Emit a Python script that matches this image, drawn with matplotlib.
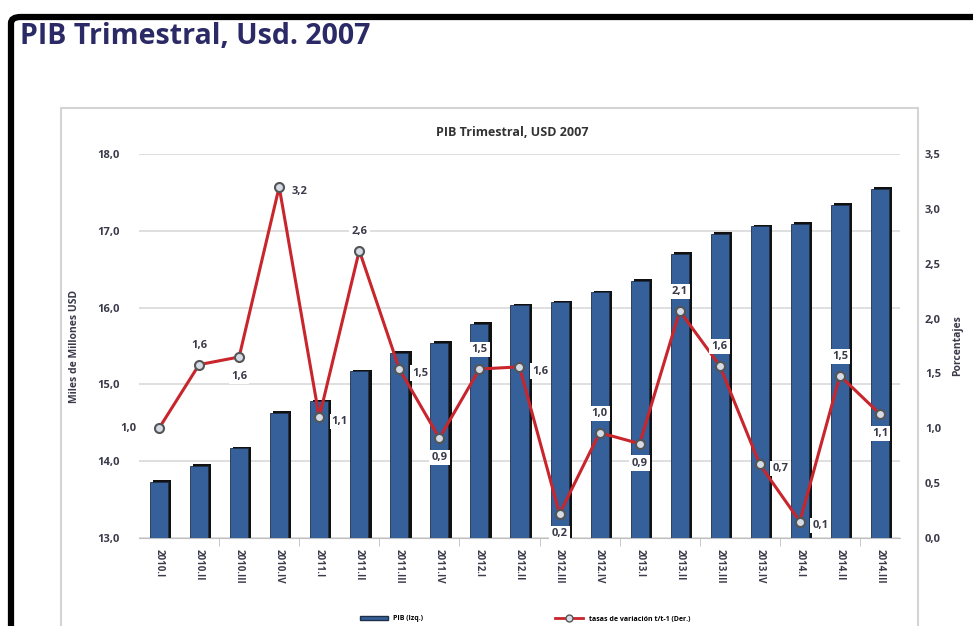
import matplotlib
matplotlib.use('Agg')
import matplotlib.pyplot as plt
from matplotlib.patches import Rectangle, FancyBboxPatch
from matplotlib.lines import Line2D
from matplotlib.patches import Patch
from matplotlib.ticker import FuncFormatter, FixedLocator

plt.rcParams['font.family'] = ['Open Sans', 'DejaVu Sans']

# datos
trimestres = ['2010.I', '2010.II', '2010.III', '2010.IV',
              '2011.I', '2011.II', '2011.III', '2011.IV',
              '2012.I', '2012.II', '2012.III', '2012.IV',
              '2013.I', '2013.II', '2013.III', '2013.IV',
              '2014.I', '2014.II', '2014.III']
pib = [13.73, 13.94, 14.17, 14.63, 14.78, 15.17, 15.41, 15.54, 15.79, 16.03,
       16.07, 16.20, 16.35, 16.70, 16.96, 17.06, 17.09, 17.34, 17.55]
tasa = [1.00, 1.58, 1.65, 3.20, 1.10, 2.62, 1.54, 0.91, 1.54, 1.56,
        0.22, 0.96, 0.86, 2.07, 1.57, 0.67, 0.15, 1.48, 1.13]
# posicion de cada etiqueta de dato
pos_etiq = ['left', 'above', 'below', 'right', 'right', 'above', 'right', 'below',
            'above', 'right', 'below', 'above', 'below', 'above', 'above', 'right',
            'right', 'above', 'below']

azul = '#36609A'
rojo = '#C8252C'
texto = '#3A3A4A'

fig = plt.figure(figsize=(9.73, 6.26), dpi=100)
W, H = 973, 626

# marco negro exterior
fig.patches.append(FancyBboxPatch((11 / W, -0.1), 1.2, (H - 17) / H + 0.1,
                                  boxstyle='round,pad=0,rounding_size=0.01',
                                  transform=fig.transFigure, fill=False,
                                  edgecolor='black', linewidth=4.5, zorder=0))
# borde gris del area del grafico
fig.patches.append(Rectangle((61 / W, -0.1), (918 - 61) / W, (H - 108) / H + 0.1,
                             transform=fig.transFigure, fill=False,
                             edgecolor='#D4D4D4', linewidth=1.5, zorder=0))

fig.text(20 / W, 1 - 36 / H, 'PIB Trimestral, Usd. 2007', fontsize=20.5,
         fontweight='bold', color='#2B2A66', ha='left', va='center')
fig.text(512 / W, 1 - 132 / H, 'PIB Trimestral, USD 2007', fontsize=9,
         fontweight='bold', color='#333333', ha='center', va='center')

ax = fig.add_axes([139 / W, 1 - 538 / H, (900 - 139) / W, (538 - 154) / H])
x = list(range(len(trimestres)))

# sombra de las barras
ax.bar([i + 0.08 for i in x], [v + 0.02 for v in pib], width=0.45,
       color='#111111', zorder=2)
ax.bar(x, pib, width=0.45, color=azul, edgecolor='#1E2F4A', linewidth=0.6,
       zorder=3)

ax.set_ylim(13, 18)
ax.set_xlim(-0.5, len(x) - 0.5)
ax.set_yticks([13, 14, 15, 16, 17, 18])
ax.yaxis.set_major_formatter(FuncFormatter(lambda v, p: f'{v:.1f}'.replace('.', ',')))
ax.grid(axis='y', color='#D9D9D9', linewidth=1.2, zorder=0)
ax.set_axisbelow(True)
for s in ['top', 'right', 'left']:
    ax.spines[s].set_visible(False)
ax.spines['bottom'].set_color('#BFBFBF')
ax.tick_params(axis='y', length=0, pad=14, labelsize=8, labelcolor=texto)
ax.set_xticks(x)
ax.set_xticklabels(trimestres, rotation=-90, fontsize=7, fontweight='bold',
                   color=texto)
ax.tick_params(axis='x', length=0, pad=8)
ax.xaxis.set_minor_locator(FixedLocator([i + 0.5 for i in range(1, len(x) - 1, 2)]))
ax.tick_params(axis='x', which='minor', length=6, color='#BFBFBF')
for t in ax.get_yticklabels():
    t.set_fontweight('bold')
ax.set_ylabel('Miles de Millones USD', fontsize=7.5, fontweight='bold',
              color=texto, labelpad=12)

ax2 = ax.twinx()
ax2.set_ylim(0, 3.5)
ax2.set_yticks([0, 0.5, 1, 1.5, 2, 2.5, 3, 3.5])
ax2.yaxis.set_major_formatter(FuncFormatter(lambda v, p: f'{v:.1f}'.replace('.', ',')))
ax2.tick_params(axis='y', length=0, pad=18, labelsize=8, labelcolor=texto)
for t in ax2.get_yticklabels():
    t.set_fontweight('bold')
for s in ax2.spines.values():
    s.set_visible(False)
ax2.set_ylabel('Porcentajes', fontsize=7.5, fontweight='bold', color=texto,
               labelpad=8)

ax2.plot(x, tasa, color=rojo, linewidth=2.2, marker='o', markersize=6.5,
         markerfacecolor='#D5DCE6', markeredgecolor='#555555',
         markeredgewidth=1.5, zorder=5)

desp = {'left': (-16, 0, 'right', 'center'), 'right': (9, -3, 'left', 'center'),
        'above': (0, 10, 'center', 'bottom'), 'below': (0, -10, 'center', 'top')}
for i, (v, p) in enumerate(zip(tasa, pos_etiq)):
    dx, dy, ha, va = desp[p]
    ax2.annotate(f'{v:.1f}'.replace('.', ','), (i, v), xytext=(dx, dy),
                 textcoords='offset points', ha=ha, va=va, fontsize=8,
                 fontweight='bold', color=texto, zorder=6,
                 bbox=dict(boxstyle='square,pad=0.2', facecolor='white',
                           edgecolor='none'))

leg = [Patch(facecolor=azul, edgecolor='#1E2F4A', label='PIB (Izq.)'),
       Line2D([0], [0], color=rojo, linewidth=2, marker='o', markersize=5,
              markerfacecolor='#D5DCE6', markeredgecolor='#555555',
              label='tasas de variación t/t-1 (Der.)')]
fig.legend(handles=leg, loc='center', bbox_to_anchor=(525 / W, 1 - 619 / H),
           ncol=2, frameon=False, columnspacing=19,
           handlelength=4, handleheight=0.6, prop={'weight': 'bold', 'size': 5})

fig.savefig('out.png', dpi=100, facecolor='white')
